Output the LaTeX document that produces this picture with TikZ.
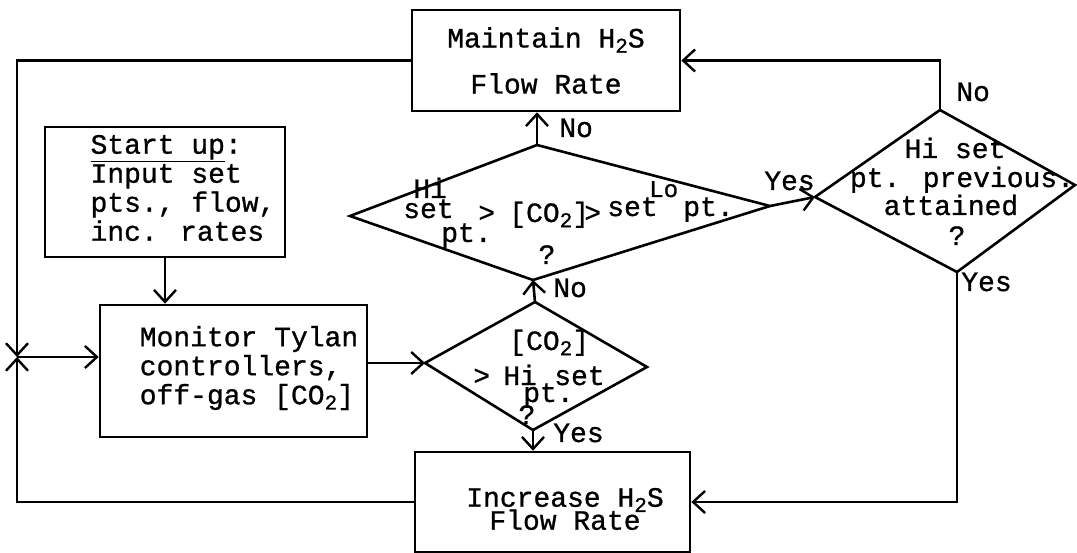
\documentclass[tikz,border=0pt]{standalone}
\usepackage{fontspec}
\setmainfont{Liberation Mono}[FakeBold=0.9]
\usetikzlibrary{arrows.meta}
\newcommand\dn[1]{\raisebox{-0.35ex}{\fontsize{21}{21}\selectfont #1}}
\begin{document}
\begin{tikzpicture}[x=1pt,y=-1pt,
  every node/.style={font=\fontsize{28}{29}\selectfont, inner sep=0pt},
  line width=2.6pt,
  >={Straight Barb[length=12pt,width=22pt,line width=2.4pt]},
  box/.style={draw, rectangle, line width=2.6pt},
  lbl/.style={anchor=base west},
  tb/.style={anchor=base west},
  ctr/.style={anchor=base},
]
\useasboundingbox (0,0) rectangle (1077,553);

% boxes
\node[box, minimum width=268pt, minimum height=101pt, align=center] (maintain) at (546,60.5) {Maintain H\dn{2}S\\[17pt]Flow Rate};
\node[box, minimum width=240pt, minimum height=130pt] (start) at (165,192) {};
\node[align=left] (starttxt) at (183,188) {\underline{Start up}:\\Input set\\pts., flow,\\inc. rates};
\node[box, minimum width=267pt, minimum height=132pt] (monitor) at (233.5,371) {};
\node[align=left] (montxt) at (249,368) {Monitor Tylan\\controllers,\\off-gas [CO\dn{2}]};
\node[box, minimum width=275pt, minimum height=100pt] (increase) at (552.5,502) {};
\node[align=center] (inctxt) at (565,509) {Increase H\dn{2}S\\[-6pt]Flow Rate};

% diamonds
\coordinate (d1w) at (350,216);
\coordinate (d1n) at (537,145);
\coordinate (d1e) at (770,206);
\coordinate (d1s) at (533,280);
\draw (d1w) -- (d1n) -- (d1e) -- (d1s) -- cycle;
\coordinate (d2w) at (425,363);
\coordinate (d2n) at (535,302);
\coordinate (d2e) at (647,367);
\coordinate (d2s) at (533,430);
\draw (d2w) -- (d2n) -- (d2e) -- (d2s) -- cycle;
\coordinate (d3w) at (815,197);
\coordinate (d3n) at (940,110);
\coordinate (d3e) at (1075,185);
\coordinate (d3s) at (957,272);
\draw (d3w) -- (d3n) -- (d3e) -- (d3s) -- cycle;

% diamond 1 text
\node[tb] (d1hi) at (412,198) {Hi};
\node[tb] (d1set) at (402,218) {set};
\node[tb] (d1pt) at (440,242) {pt.};
\node[tb] (d1gt) at (477,222) {>};
\node[tb] (d1co) at (508,222) {[CO\dn{2}]};
\node[tb] (d1gtb) at (583,222) {>};
\node[tb] (d1setb) at (606,216) {set};
\node[tb, font=\fontsize{24}{24}\selectfont] (d1lo) at (648,197) {Lo};
\node[tb] (d1ptb) at (682,216) {pt.};
\node[ctr] (d1q) at (547,264) {?};

% diamond 2 text
\node[tb] (d2co) at (508,350) {[CO\dn{2}]};
\node[tb] (d2gt) at (472,385) {>};
\node[tb] (d2hi) at (502,385) {Hi};
\node[tb] (d2set) at (553,385) {set};
\node[tb] (d2pt) at (522,402) {pt.};
\node[ctr] (d2q) at (527,424) {?};

% diamond 3 text
\node[ctr] (d3a) at (955,158) {Hi set};
\node[ctr] (d3b) at (962,187) {pt. previous.};
\node[ctr] (d3c) at (951,215) {attained};
\node[ctr] (d3q) at (957,245) {?};

% junction
\coordinate (j) at (17,357);

% connectors
\draw[->] (maintain.west) -| (j);
\draw[->] (increase.west) -| (j);
\draw[->] (j) -- (j -| monitor.west);
\draw[->] (start.south) -- (start.south |- monitor.north);
\draw[->] (monitor.east |- d2w) -- (d2w);
\draw[->] (d2n) -- (d1s);
\draw[->] (d2s) -- (d2s |- increase.north);
\draw[->] (d1n) -- (d1n |- maintain.south);
\draw[->] (d1e) -- (d3w);
\draw[->] (d3n) |- (maintain.east);
\draw[->] (d3s) |- (increase.east);

% labels
\node[lbl] (no1) at (558,137) {No};
\node[lbl] (no2) at (955,101) {No};
\node[lbl] (yes1) at (763,190) {Yes};
\node[lbl] (no3) at (552,297) {No};
\node[lbl] (yes2) at (552,442) {Yes};
\node[lbl] (yes3) at (960,291) {Yes};
\end{tikzpicture}
\end{document}
